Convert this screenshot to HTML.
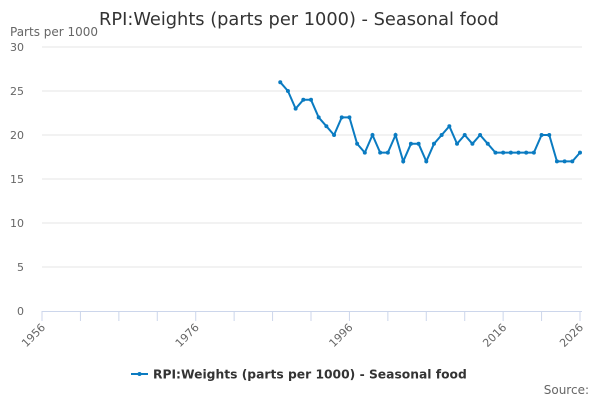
<!DOCTYPE html>
<html><head><meta charset="utf-8"><style>
body{margin:0;background:#fff;font-family:"DejaVu Sans","Liberation Sans",sans-serif;}
svg{display:block}
</style></head><body>
<svg id="chart" width="600" height="400">
<text x="299" y="25" text-anchor="middle" font-size="17.8" fill="#333">RPI:Weights (parts per 1000) - Seasonal food</text>
<text x="10" y="36" font-size="12" fill="#666">Parts per 1000</text>
<g id="grid"></g><g id="xaxis"></g><g id="series"></g>
<g>
<line x1="131" y1="374" x2="148" y2="374" stroke="#0a7bc1" stroke-width="2"/>
<circle cx="139.5" cy="374" r="2" fill="#0a7bc1"/>
<text x="153" y="378.5" font-size="12.3" font-weight="bold" fill="#333">RPI:Weights (parts per 1000) - Seasonal food</text>
</g>
<text x="589" y="394" text-anchor="end" font-size="12" fill="#666">Source:</text>
</svg>
<script>
const years=[1987,1988,1989,1990,1991,1992,1993,1994,1995,1996,1997,1998,1999,2000,2001,2002,2003,2004,2005,2006,2007,2008,2009,2010,2011,2012,2013,2014,2015,2016,2017,2018,2019,2020,2021,2022,2023,2024,2025,2026];
const values=[26,25,23,24,24,22,21,20,22,22,19,18,20,18,18,20,17,19,19,17,19,20,21,19,20,19,20,19,18,18,18,18,18,18,20,20,17,17,17,18];
const yTicks=[0,5,10,15,20,25,30];
const xLabels=[1956,1976,1996,2016,2026];
const NS="http://www.w3.org/2000/svg";
const x=v=>42+(v-1956)*(538/70);
const y=v=>311-v*(264/30);
function mk(t,a,p){const e=document.createElementNS(NS,t);for(const k in a)e.setAttribute(k,a[k]);p.appendChild(e);return e;}
const grid=document.getElementById('grid'),xa=document.getElementById('xaxis'),se=document.getElementById('series');
yTicks.forEach(t=>{
 if(t>0){const l=mk('line',{x1:42,x2:582,y1:y(t),y2:y(t),stroke:'#e6e6e6'},grid);
 
 }
 const tx=mk('text',{x:24,y:y(t)+4,'text-anchor':'end','font-size':11,fill:'#666'},grid);tx.textContent=t;
 
 
});
const ax=mk('line',{x1:42,x2:582,y1:311.5,y2:311.5,stroke:'#ccd6eb'},xa);


for(let yr=1956;yr<=2026;yr+=5){const tk=mk('line',{x1:x(yr),x2:x(yr),y1:311,y2:321,stroke:'#ccd6eb'},xa);
 
 }
xLabels.forEach(yr=>{const t=mk('text',{x:x(yr)+4,y:328,'text-anchor':'end','font-size':11,fill:'#666',transform:`rotate(-45 ${x(yr)+4} 328)`},xa);t.textContent=yr;
 
 });
const path=mk('path',{d:years.map((yr,i)=>(i?'L':'M')+x(yr)+' '+y(values[i])).join(' '),fill:'none',stroke:'#0a7bc1','stroke-width':2},se);


years.forEach((yr,i)=>{const c=mk('circle',{cx:x(yr),cy:y(values[i]),r:2,fill:'#0a7bc1'},se);
 
 });
</script>
</body></html>
